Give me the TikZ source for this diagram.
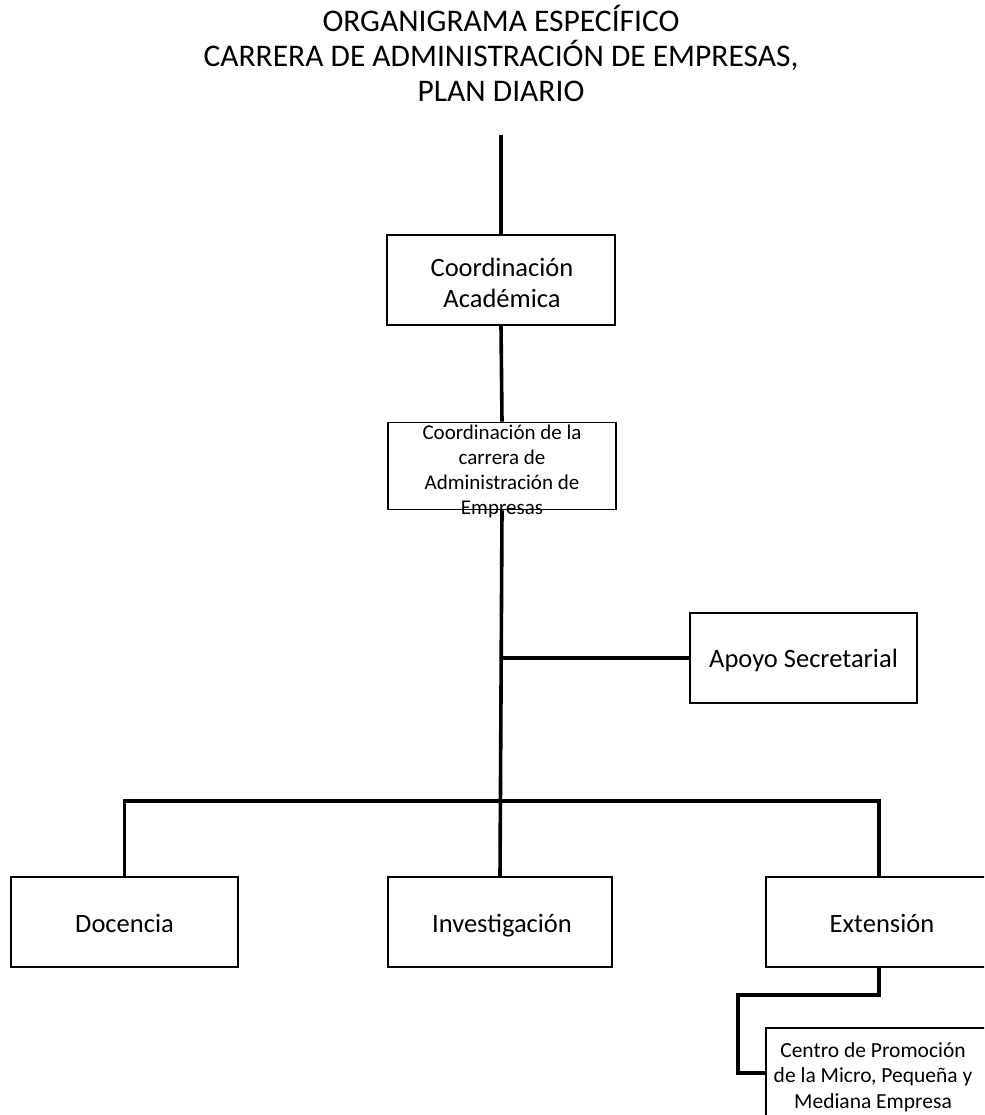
\documentclass[tikz,border=0pt]{standalone}
\usepackage{fontspec}
\setmainfont{Carlito}
\usetikzlibrary{positioning}

\tikzset{
  unit/.style={draw=black, line width=1.8pt, fill=white, minimum width=226pt, minimum height=90pt, inner sep=0pt},
  conn/.style={line width=3.6pt, black},
  bigtext/.style={font=\fontsize{26.5}{31}\selectfont, align=center},
  smalltext/.style={font=\fontsize{21.5}{25.5}\selectfont, align=center}
}

\begin{document}
\begin{tikzpicture}[x=1pt,y=-1pt]
        % frame
        \useasboundingbox (0,0) rectangle (984,1115);
        \clip (0,0) rectangle (984,1115);
        
        % title
        \node[font=\fontsize{31.5}{35}\selectfont, align=center] (title) at (501,53) {ORGANIGRAMA ESPECÍFICO\\CARRERA DE ADMINISTRACIÓN DE EMPRESAS,\\PLAN DIARIO};
        
        % boxes
        \node[unit, minimum width=228pt] (acad) at (501,280) {};
        \node[bigtext] (acadtxt) at (502,283) {Coordinación\\Académica};
        
        \node[unit, minimum width=228pt, minimum height=87pt] (carrera) at (502,466) {};
        \node[smalltext, font=\fontsize{21}{25}\selectfont] (carreratxt) at (502,471) {Coordinación de la\\carrera de\\Administración de\\Empresas};
        
        \node[unit, minimum width=227pt] (apoyo) at (803.5,658) {};
        \node[bigtext, anchor=base] (apoyotxt) at (803.5,667) {Apoyo Secretarial};
        
        \node[unit, minimum width=227pt] (doc) at (124.5,922) {};
        \node[bigtext, anchor=base] (doctxt) at (124.5,932) {Docencia};
        
        \node[unit, minimum width=224pt] (inv) at (500,922) {};
        \node[bigtext, anchor=base] (invtxt) at (502,932) {Investigación};
        
        \node[unit] (ext) at (879,922) {};
        \node[bigtext, anchor=base] (exttxt) at (882,932) {Extensión};
        
        \node[unit] (centro) at (879,1073) {};
        \node[smalltext] (centrotxt) at (873,1077) {Centro de Promoción\\de la Micro, Pequeña y\\Mediana Empresa};
        
        % connectors
        \coordinate (top) at (501,135);
        \coordinate (bar) at (501,801);
        \coordinate (elbow) at (738,995);
        
        \draw[conn] (top) -- (acad.north);
        \draw[conn] (acad.south) -- (carrera.north);
        \draw[conn] (carrera.south) -- (inv.north);
        \draw[conn] (carrera.south |- apoyo.west) -- (apoyo.west);
        \draw[conn] (doc.north) |- (bar) -| (ext.north);
        \draw[conn] (ext.south) |- (elbow) |- (centro.west);
\end{tikzpicture}
\end{document}
